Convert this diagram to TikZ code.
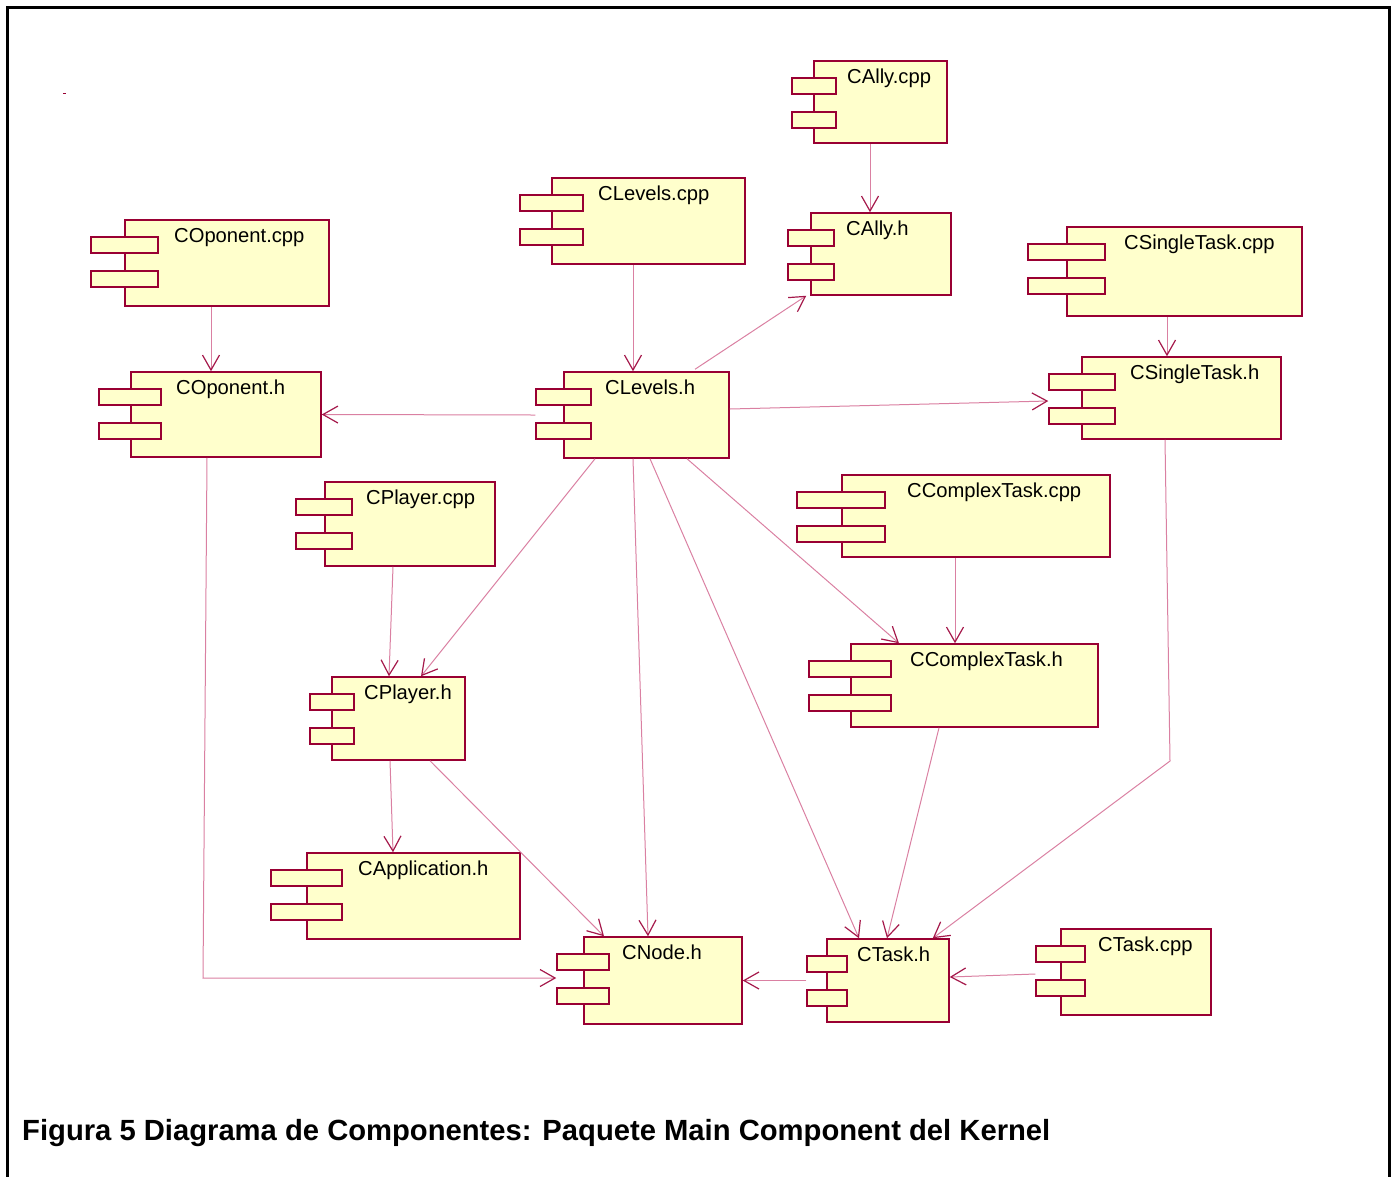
\documentclass[tikz,border=0pt]{standalone}
\usepackage{fontspec}
\setmainfont{Liberation Sans}
\usetikzlibrary{arrows.meta,fit}

\definecolor{compfill}{RGB}{255,255,204}
\definecolor{compedge}{RGB}{153,0,51}
\definecolor{deplinec}{RGB}{218,128,162}
\definecolor{deptipc}{RGB}{165,25,75}

\tikzset{
  compbox/.style={draw=compedge, fill=compfill, line width=1.5pt, inner sep=0pt},
  comptab/.style={draw=compedge, fill=compfill, line width=1.5pt},
  complabel/.style={anchor=base west, inner sep=0pt, font=\fontsize{20.2}{24}\selectfont},
  dep/.style={draw=deplinec, line width=1pt,
    -{Straight Barb[length=15pt,width=17pt,line width=1.2pt,color=deptipc]}},
  frameline/.style={draw=black, line width=3pt},
}

% UML component: name, x1, y1, x2, y2, tab left, tab right, label x, label text
\newcommand\umlcomp[9]{%
  \node[compbox, fit={(#2,#3) (#4,#5)}] (#1) {};
  \draw[comptab] (#6,{#3+17}) rectangle (#7,{#3+33});
  \draw[comptab] (#6,{#3+51}) rectangle (#7,{#3+67});
  \node[complabel] (#1-label) at (#8,{#3+22.5}) {#9};
}

\begin{document}
\begin{tikzpicture}[x=1pt,y=-1pt]
\useasboundingbox (0,0) rectangle (1396,1176);

% outer frame (open at the bottom)
\draw[frameline] (7,1185) -- (7,7) -- (1389,7) -- (1389,1185);
\draw[compedge, line width=1pt] (63,93) -- (66,93);

% components
\umlcomp{CAllycpp}{814}{61}{947}{143}{792}{836}{847}{CAlly.cpp}
\umlcomp{CAllyh}{811}{213}{951}{295}{788}{834}{846}{CAlly.h}
\umlcomp{CLevelscpp}{552}{178}{745}{264}{520}{583}{598}{CLevels.cpp}
\umlcomp{COponentcpp}{125}{220}{329}{306}{91}{158}{174}{COponent.cpp}
\umlcomp{CSingleTaskcpp}{1067}{227}{1302}{316}{1028}{1105}{1124}{CSingleTask.cpp}
\umlcomp{COponenth}{131}{372}{321}{457}{99}{161}{176}{COponent.h}
\umlcomp{CLevelsh}{564}{372}{729}{458}{536}{591}{605}{CLevels.h}
\umlcomp{CSingleTaskh}{1082}{357}{1281}{439}{1049}{1115}{1130}{CSingleTask.h}
\umlcomp{CPlayercpp}{325}{482}{495}{566}{296}{352}{366}{CPlayer.cpp}
\umlcomp{CComplexTaskcpp}{842}{475}{1110}{557}{797}{885}{907}{CComplexTask.cpp}
\umlcomp{CPlayerh}{332}{677}{465}{760}{310}{354}{364}{CPlayer.h}
\umlcomp{CComplexTaskh}{851}{644}{1098}{727}{809}{891}{910}{CComplexTask.h}
\umlcomp{CApplicationh}{307}{853}{520}{939}{271}{342}{358}{CApplication.h}
\umlcomp{CNodeh}{584}{937}{742}{1024}{557}{609}{622}{CNode.h}
\umlcomp{CTaskh}{827}{939}{949}{1022}{807}{847}{857}{CTask.h}
\umlcomp{CTaskcpp}{1061}{929}{1211}{1015}{1036}{1085}{1098}{CTask.cpp}

% bend points of the routed dependencies
\coordinate (bendOpNode) at (203,978);
\coordinate (bendSingleTask) at (1170,761);

% dependencies
\draw[dep] ([xshift=-10.5]CAllycpp.south) -- ([xshift=-11]CAllyh.north);
\draw[dep] ([xshift=-15.5]CLevelscpp.south) -- ([xshift=-13.5]CLevelsh.north);
\draw[dep] ([xshift=-16]COponentcpp.south) -- ([xshift=-15]COponenth.north);
\draw[dep] ([xshift=-17.5]CSingleTaskcpp.south) -- ([xshift=-14.5]CSingleTaskh.north);
\draw[dep] ([xshift=48.5,yshift=2]CLevelsh.north) -- ([xshift=-4]CAllyh.south west);
\draw[dep] ([xshift=-28]CLevelsh.west) -- (COponenth.east);
\draw[dep] ([yshift=6]CLevelsh.east) -- ([xshift=-33,yshift=-3]CSingleTaskh.west);
\draw[dep] ([xshift=-51.5]CLevelsh.south) -- ([xshift=22.5]CPlayerh.north);
\draw[dep] ([xshift=-13.5]CLevelsh.south) -- ([xshift=-15]CNodeh.north);
\draw[dep] ([xshift=3.5]CLevelsh.south) -- ([xshift=-29]CTaskh.north);
\draw[dep] ([xshift=40.5]CLevelsh.south) -- ([xshift=-75.5]CComplexTaskh.north);
\draw[dep] ([xshift=-21]CComplexTaskcpp.south) -- ([xshift=-19.5]CComplexTaskh.north);
\draw[dep] ([xshift=-17]CPlayercpp.south) -- ([xshift=-9.5]CPlayerh.north);
\draw[dep] ([xshift=-8.5]CPlayerh.south) -- ([xshift=-20.5]CApplicationh.north);
\draw[dep] ([xshift=31.5]CPlayerh.south) -- ([xshift=-59]CNodeh.north);
\draw[dep] ([xshift=-19]COponenth.south) -- (bendOpNode) -- ([xshift=-27,yshift=2.5]CNodeh.west);
\draw[dep] ([xshift=-35.5]CComplexTaskh.south) -- ([xshift=-1]CTaskh.north);
\draw[dep] ([xshift=-16.5]CSingleTaskh.south) -- (bendSingleTask) -- ([xshift=-17]CTaskh.north east);
\draw[dep] ([xshift=-20]CTaskh.west) -- (CNodeh.east);
\draw[dep] ([xshift=-25,yshift=-2]CTaskcpp.west) -- ([yshift=3.5]CTaskh.east);

% caption
\node[anchor=base west, inner sep=0pt, font=\bfseries\fontsize{29.2}{35}\selectfont] (caption)
  at (22,1140) {Figura 5 Diagrama de Componentes: Paquete Main Component del Kernel};
\end{tikzpicture}
\end{document}
